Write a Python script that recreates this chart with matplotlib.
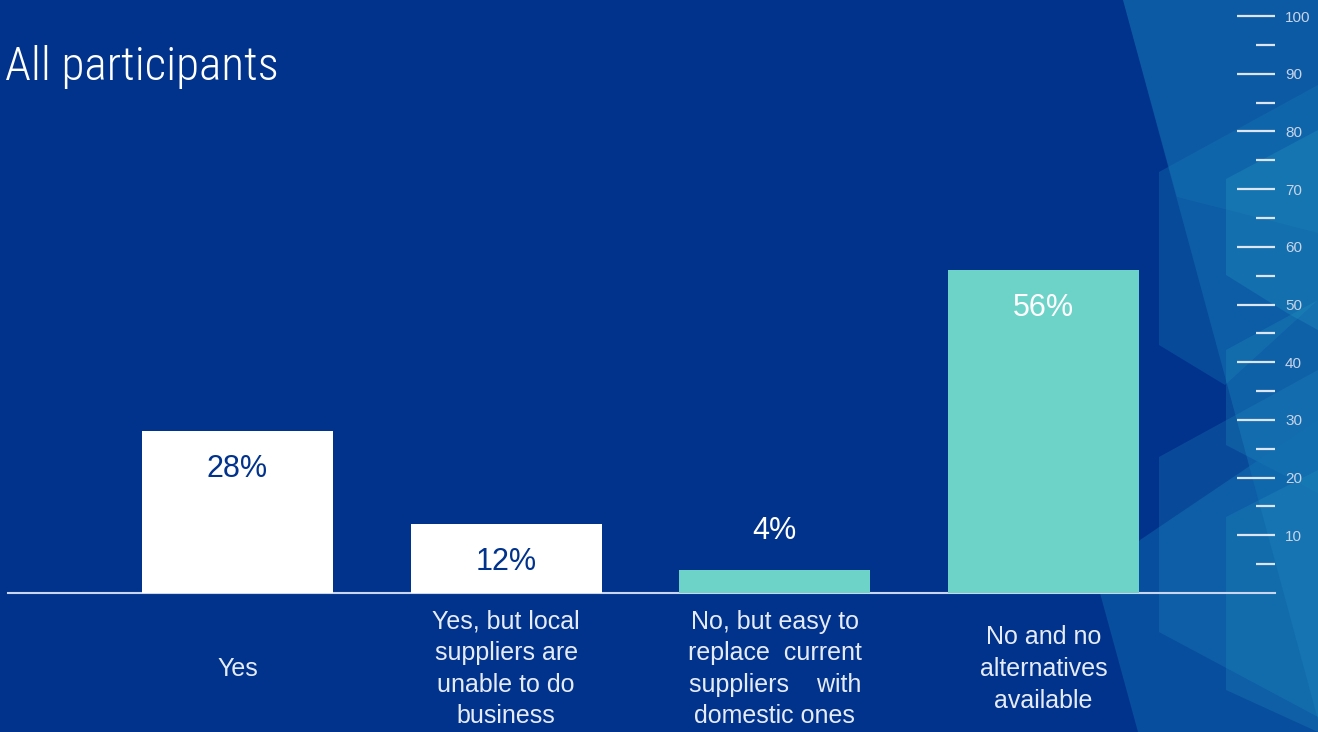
import matplotlib.pyplot as plt
from matplotlib.patches import Polygon

# survey answers and shares (%)
categories = ["Yes",
              "Yes, but local\nsuppliers are\nunable to do\nbusiness",
              "No, but easy to\nreplace  current\nsuppliers    with\ndomestic ones",
              "No and no\nalternatives\navailable"]
shares = [28, 12, 4, 56]
bar_colors = ["#ffffff", "#ffffff", "#6dd3c9", "#6dd3c9"]
value_colors = ["#01338d", "#01338d", "#ffffff", "#ffffff"]
title = "All participants"

BG = "#01338d"
W, H = 1318, 732

fig = plt.figure(figsize=(W / 100, H / 100), dpi=100)
fig.patch.set_facecolor(BG)

# decorative translucent hexagon pieces on the right, pixel coordinates
bg = fig.add_axes([0, 0, 1, 1])
bg.set_xlim(0, W)
bg.set_ylim(H, 0)
bg.axis("off")
shapes = [
    ([(1123, 0), (1318, 0), (1318, 720)], "#0e66ad", 0.55),
    ([(1123, 0), (1318, 0), (1318, 233), (1177, 197)], "#2aa0c8", 0.15),
    ([(1159, 172), (1318, 85), (1318, 300), (1225, 385), (1159, 345)], "#1680b8", 0.3),
    ([(1226, 179), (1318, 130), (1318, 330), (1287, 313), (1226, 275)], "#2aa5c8", 0.25),
    ([(1226, 350), (1318, 300), (1318, 493), (1226, 445)], "#2aa5c8", 0.22),
    ([(1100, 593), (1140, 540), (1318, 420), (1318, 732), (1138, 732)], "#0e66ad", 0.55),
    ([(1159, 457), (1318, 370), (1318, 717), (1159, 632)], "#1f90c0", 0.25),
    ([(1226, 517), (1318, 470), (1318, 732), (1226, 690)], "#2aa5c8", 0.2),
]
for pts, c, a in shapes:
    bg.add_patch(Polygon(pts, closed=True, facecolor=c, edgecolor="none", alpha=a))

# main chart area spans the whole figure
px_per_cat = 268.67
px_per_unit = 5.77
y0_px = 593
ax = fig.add_axes([0, 0, 1, 1])
ax.patch.set_alpha(0)
ax.set_xlim(-237.5 / px_per_cat, (W - 237.5) / px_per_cat)
ax.set_ylim((y0_px - H) / px_per_unit, y0_px / px_per_unit)
ax.axis("off")

x = list(range(len(categories)))
ax.bar(x, shares, width=191 / px_per_cat, color=bar_colors, zorder=3)
ax.axhline(0, xmin=8 / W, xmax=1275 / W, color="#c9d6ee", lw=1.5, zorder=2)

pt = 72 / 100
for xi, v, tc in zip(x, shares, value_colors):
    if v < 10:
        off, col = 39, "#ffffff"
    else:
        off, col = -38, tc
    ax.annotate(f"{v}%", (xi, v), xytext=(0, off * pt), textcoords="offset points",
                ha="center", va="center", fontsize=22, color=col,
                family=["Liberation Sans", "DejaVu Sans"], zorder=4)

for xi, lab in zip(x, categories):
    ax.annotate(lab, (xi, 0), xytext=(0, -76 * pt), textcoords="offset points",
                ha="center", va="center", fontsize=18, color="#e6ecf7",
                linespacing=1.4, family=["Liberation Sans", "DejaVu Sans"])

# percentage scale on the right
sc = fig.add_axes([0, 0, 1275 / W, 1])
sc.patch.set_alpha(0)
sc.set_ylim(ax.get_ylim())
sc.set_xticks([])
for s in sc.spines.values():
    s.set_visible(False)
sc.yaxis.tick_right()
sc.set_yticks(range(10, 101, 10))
sc.set_yticks([v + 5 for v in range(0, 100, 10)], minor=True)
sc.tick_params(axis="y", which="major", direction="in", length=38 * pt, width=1.6,
               color="#dde5f2", pad=10 * pt, labelsize=11, labelcolor="#c8d4ea")
sc.tick_params(axis="y", which="minor", direction="in", length=19 * pt, width=1.6,
               color="#dde5f2")
for t in sc.get_yticklabels():
    t.set_family(["Liberation Sans", "DejaVu Sans"])

fig.text(5 / W, 1 - 80 / H, title, ha="left", va="baseline", fontsize=34,
         color="#ffffff", fontweight="light", fontstretch="condensed",
         family=["Roboto Condensed", "Liberation Sans Narrow", "DejaVu Sans"])

fig.savefig("out.png", dpi=100, facecolor=BG)
